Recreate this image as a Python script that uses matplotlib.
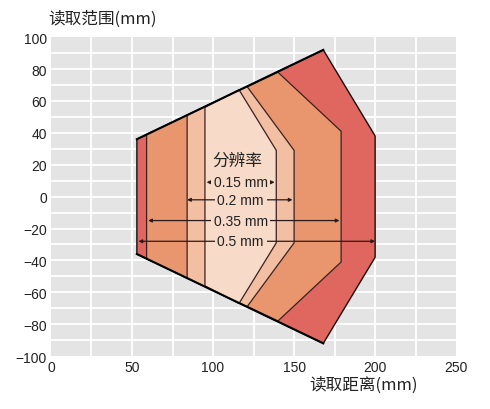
import matplotlib
matplotlib.use("Agg")
import matplotlib.pyplot as plt
from matplotlib.patches import Polygon

plt.rcParams['font.family'] = ['Liberation Sans', 'Noto Sans CJK SC', 'DejaVu Sans']

# zone outlines (read distance x, read range y), one per resolution
zone_names = ["0.5 mm", "0.35 mm", "0.2 mm", "0.15 mm"]
zone_x = [
    [53, 53, 168, 200, 200, 168],
    [59, 59, 140, 179, 179, 140],
    [84, 84, 121, 150, 150, 121],
    [95, 95, 116, 139, 139, 116],
]
zone_y = [
    [-36, 36, 92, 38, -38, -92],
    [-39, 39, 78, 41, -41, -78],
    [-51, 51, 69, 29, -29, -69],
    [-56, 56, 67, 29, -29, -67],
]
zone_colors = ["#e0675f", "#e9966f", "#f3bfa2", "#f8dac8"]

# arrows for each resolution: left end, right end, height
arrow_left = [54, 60, 84, 96]
arrow_right = [200, 178, 149, 138]
arrow_y = [-28, -15, -2, 9]

xticks = [0, 50, 100, 150, 200, 250]
yticks = [-100, -80, -60, -40, -20, 0, 20, 40, 60, 80, 100]

fig = plt.figure(figsize=(4.9, 4.1), dpi=100)
ax = fig.add_axes([0.104, 0.129, 0.827, 0.778])
ax.set_facecolor("#e4e4e4")
ax.set_xlim(0, 250)
ax.set_ylim(-100, 100)
for gx in range(25, 250, 25):
    ax.axvline(gx, color="white", lw=1.3, zorder=0.5)
for gy in range(-90, 100, 10):
    ax.axhline(gy, color="white", lw=1.3, zorder=0.5)
for s in ax.spines.values():
    s.set_visible(False)
ax.tick_params(length=0, labelsize=10, pad=3, labelcolor="#222222")
ax.set_xticks(xticks)
ax.set_yticks(yticks)

for i in range(len(zone_names)):
    pts = list(zip(zone_x[i], zone_y[i]))
    ec = "#111111" if i == 0 else "#3b2020"
    lw = 1.0 if i == 0 else 0.9
    ax.add_patch(Polygon(pts, closed=True, facecolor=zone_colors[i],
                         edgecolor=ec, lw=lw, zorder=2 + i))

# heavier top/bottom outer edge
ax.plot(zone_x[0][1:3], zone_y[0][1:3], color="black", lw=1.5, zorder=7)
ax.plot([zone_x[0][0], zone_x[0][5]], [zone_y[0][0], zone_y[0][5]], color="black", lw=1.5, zorder=7)

mid_x = 117
for i in range(len(zone_names)):
    ax.annotate("", xy=(arrow_left[i], arrow_y[i]), xytext=(arrow_right[i], arrow_y[i]),
                arrowprops=dict(arrowstyle="<|-|>", color="#2a1a1a", lw=0.9,
                                mutation_scale=5, shrinkA=0, shrinkB=0), zorder=8)
    ax.text(mid_x, arrow_y[i], zone_names[i], ha="center", va="center", fontsize=10,
            color="#222222", zorder=9,
            bbox=dict(facecolor=zone_colors[3], edgecolor="none", pad=2.0))

ax.text(115, 23, "分辨率", ha="center", va="center", fontsize=12, color="#222222",
        family=['Noto Sans CJK SC', 'DejaVu Sans'], zorder=9)

fig.text(0.098, 0.952, "读取范围(mm)", ha="left", va="center", fontsize=12,
         family=['Noto Sans CJK SC', 'DejaVu Sans'], color="#222222")
fig.text(0.853, 0.061, "读取距离(mm)", ha="right", va="center", fontsize=12,
         family=['Noto Sans CJK SC', 'DejaVu Sans'], color="#222222")

fig.savefig("out.png", dpi=100)
